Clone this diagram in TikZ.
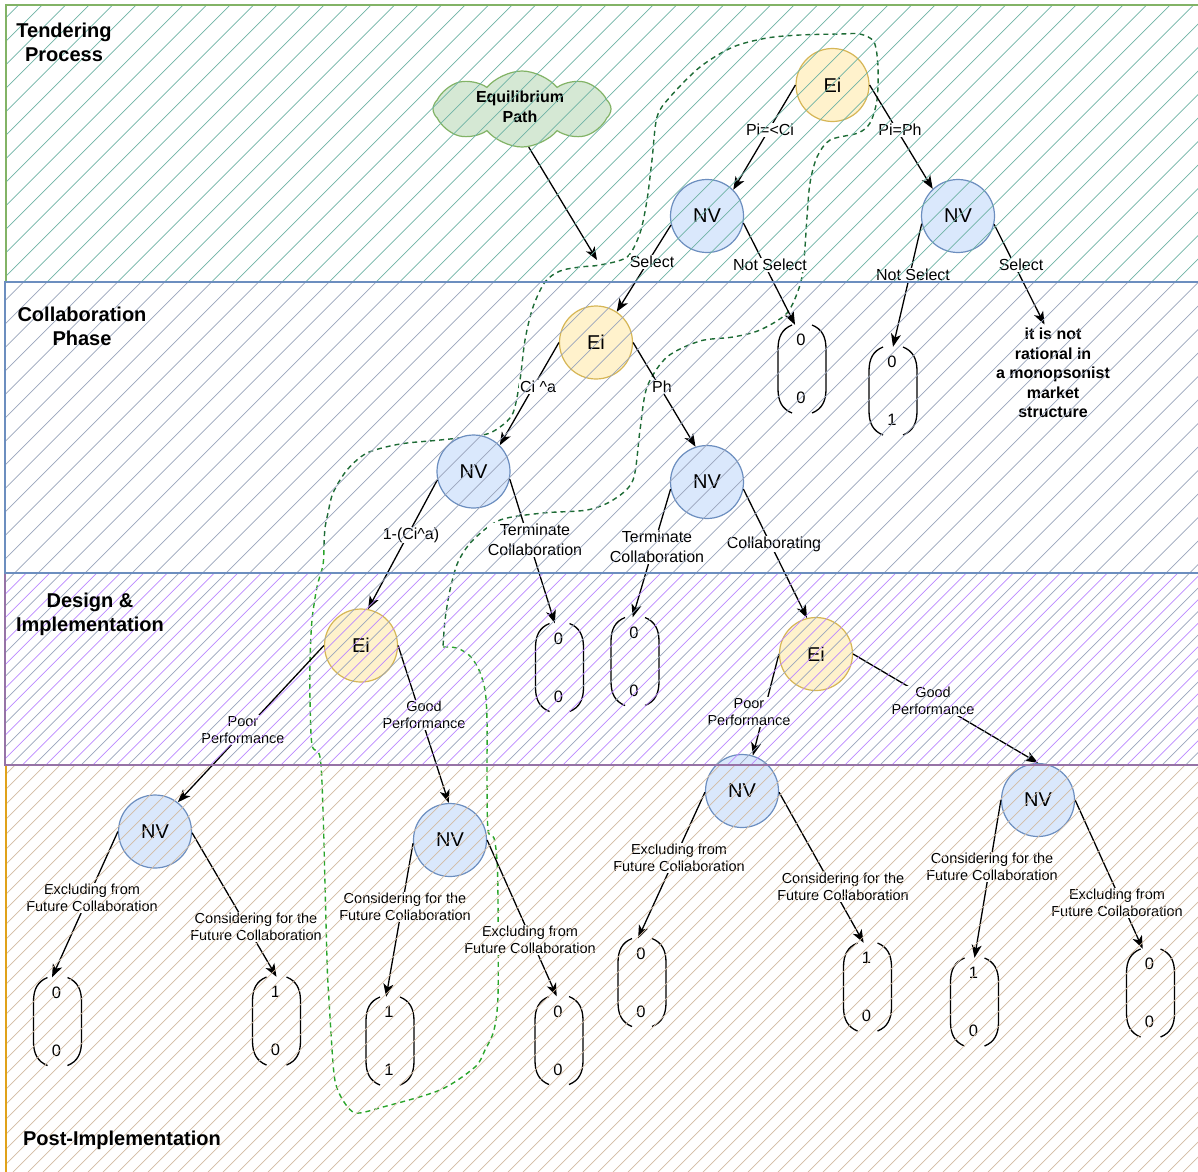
\documentclass[tikz,border=0pt]{standalone}
\usepackage{fontspec}
\setmainfont{Liberation Sans}
\usetikzlibrary{arrows.meta,shapes.symbols}
\definecolor{nvF}{HTML}{DAE8FC}
\definecolor{nvS}{HTML}{6C8EBF}
\definecolor{eiF}{HTML}{FFF2CC}
\definecolor{eiS}{HTML}{D6B656}
\definecolor{clF}{HTML}{D5E8D4}
\definecolor{clS}{HTML}{82B366}
\definecolor{tendS}{HTML}{82B366}
\definecolor{tendH}{HTML}{6FB3A5}
\definecolor{collS}{HTML}{6C8EBF}
\definecolor{collH}{HTML}{9AA5BC}
\definecolor{desS}{HTML}{9673A6}
\definecolor{desH}{HTML}{BB88FF}
\definecolor{postS}{HTML}{E0A21A}
\definecolor{postH}{HTML}{D2BBA3}
\definecolor{eqDark}{HTML}{1D6B35}
\definecolor{eqBright}{HTML}{2AA52A}
\tikzset{
  every node/.style={font=\fontsize{16}{20}\selectfont},
  nvnode/.style={circle, draw=nvS, fill=nvF, line width=1.2pt, minimum size=73pt, inner sep=0pt, font=\fontsize{20}{24}\selectfont},
  einode/.style={circle, draw=eiS, fill=eiF, line width=1.2pt, minimum size=73pt, inner sep=0pt, font=\fontsize{20}{24}\selectfont},
  arr/.style={line width=1.3pt, -{Stealth[length=13pt,width=10pt,inset=3.5pt]}},
  lbl/.style={fill=white, inner sep=1pt, align=center, font=\fontsize{16}{20}\selectfont},
  slbl/.style={fill=white, inner sep=1pt, align=center, font=\fontsize{14.5}{17.5}\selectfont},
  bandtitle/.style={font=\bfseries\fontsize{20}{24}\selectfont, align=center},
  vbox/.style={minimum width=48pt, minimum height=88pt, inner sep=0pt},
  vnum/.style={font=\fontsize{16.5}{19}\selectfont, inner sep=0pt},
  brk/.style={line width=1.3pt},
  eqline/.style={dash pattern=on 5pt off 4pt, line width=1.4pt},
  hatchline/.style={line width=0.7pt},
  bandline/.style={line width=1.3pt}
}
\newcommand\mypayoff[5]{%
  \node[vbox] (#1) at (#2,#3) {};
  \node[vnum] (#1t) at (#2-1,#3-29) {#4};
  \node[vnum] (#1b) at (#2-1,#3+29) {#5};
  \begin{scope}[shift={(#2,#3)}]
    \draw[brk] (-10,-44) .. controls (-20,-40) and (-24,-32) .. (-24,-20) -- (-24,20) .. controls (-24,32) and (-20,40) .. (-10,44);
    \draw[brk] (10,-44) .. controls (20,-40) and (24,-32) .. (24,-20) -- (24,20) .. controls (24,32) and (20,40) .. (10,44);
  \end{scope}}
\begin{document}
\begin{tikzpicture}[x=1pt,y=-1pt]
\useasboundingbox (0,0) rectangle (1198,1171);
\clip (0,0) rectangle (1198,1171);
\fill[white] (0,0) rectangle (1198,1171);

% equilibrium path loop
\draw[eqline, draw=eqDark] plot[smooth, tension=0.5] coordinates {
 (324,545) (325,528) (328,513) (333,493) (347,470) (367,453) (400,444) (440,440) (483,435) (500,427) (513,413) (520,380) (525,340) (533,307) (545,282) (560,271) (580,267) (600,265) (627,257) (640,233) (647,200) (652,160) (657,117) (670,97) (700,67) (733,47) (767,38) (800,35) (840,34) (860,34) (874,42) (878,67) (877,100) (870,123) (858,133) (830,140) (817,157) (810,183) (807,217) (804,260) (800,285) (787,313) (760,330) (733,337) (700,341) (667,357) (647,387) (640,430) (633,480) (613,500) (587,510) (543,513) (500,520) (473,540) (458,562) (450,590) (445,620) (443,647)};
\draw[eqline, draw=eqBright] plot[smooth, tension=0.5] coordinates {
 (443,647) (457,648) (470,656) (479,670) (485,690) (487,720) (487,780) (488,830) (494,838) (497,860) (498,900) (498,995) (494,1030) (485,1050) (475,1067) (440,1090) (383,1107) (356,1113) (344,1102) (336,1085) (333,1063) (329,1000) (327,960) (323,810) (320,757) (312,745) (310,700) (310,660) (312,620) (317,587) (323,565) (324,545)};

% cloud
\node[cloud, cloud puffs=8, cloud puff arc=100, aspect=2.3, draw=clS, fill=clF, line width=1.2pt, minimum width=178pt, minimum height=76pt, inner sep=0pt] (cloud) at (522,109) {};
\node[font=\bfseries\fontsize{16}{20}\selectfont, align=center] (cloudtxt) at (520,107) {Equilibrium\\Path};
\coordinate (eqTip) at (597,260);
\draw[arr] (cloud.-80) -- (eqTip);

% decision nodes
\node[einode] (Ei1) at (832.5,85) {Ei};
\node[nvnode] (NV1) at (707,216) {NV};
\node[nvnode] (NV2) at (958,216) {NV};
\node[einode] (Ei2) at (596,342.5) {Ei};
\node[nvnode] (NV3) at (473.5,471.5) {NV};
\node[nvnode] (NV4) at (707,482) {NV};
\node[einode] (Ei3) at (361,645.5) {Ei};
\node[einode] (Ei4) at (816,654) {Ei};
\node[nvnode] (NV5) at (155,831.5) {NV};
\node[nvnode] (NV6) at (450,840) {NV};
\node[nvnode] (NV7) at (742,791) {NV};
\node[nvnode] (NV8) at (1038,800) {NV};

% payoffs
\mypayoff{V1}{802}{369}{0}{0}
\mypayoff{V2}{893}{391}{0}{1}
\mypayoff{V3}{559.5}{667.5}{0}{0}
\mypayoff{V4}{635}{661.5}{0}{0}
\mypayoff{V5}{57.5}{1021.5}{0}{0}
\mypayoff{V6}{276.5}{1021}{1}{0}
\mypayoff{V7}{390}{1041}{1}{1}
\mypayoff{V8}{559}{1040.5}{0}{0}
\mypayoff{V9}{642}{982.5}{0}{0}
\mypayoff{V10}{867.5}{987}{1}{0}
\mypayoff{V11}{974.5}{1002}{1}{0}
\mypayoff{V12}{1150.5}{993}{0}{0}

\node[font=\bfseries\fontsize{16}{19.5}\selectfont, align=center] (irr) at (1053,373) {it is not\\rational in\\a monopsonist\\market\\structure};

% connectors
\draw[arr] (Ei1.180) -- (NV1.45);
\draw[arr] (Ei1.0) -- (NV2.133);
\draw[arr] (NV1.194) -- (Ei2.56);
\draw[arr] (NV1.-11) -- (V1.99);
\draw[arr] (NV2.192) -- (V2.90);
\draw[arr] (NV2.-13) -- (irr.100);
\draw[arr] (Ei2.180) -- (NV3.45);
\draw[arr] (Ei2.0) -- (NV4.108);
\draw[arr] (NV3.193) -- (Ei3.79);
\draw[arr] (NV3.-12) -- (V3.96);
\draw[arr] (NV4.191) -- (V4.93);
\draw[arr] (NV4.-11) -- (Ei4.104);
\draw[arr] (Ei3.180) -- (NV5.52);
\draw[arr] (Ei3.0) -- (NV6.92);
\draw[arr] (Ei4.180) -- (NV7.73);
\draw[arr] (Ei4.0) -- (NV8.90);
\draw[arr] (NV5.180) -- (V5.97);
\draw[arr] (NV5.-2) -- (V6.90);
\draw[arr] (NV6.185) -- (V7.95);
\draw[arr] (NV6.0) -- (V8.93);
\draw[arr] (NV7.182) -- (V9.95);
\draw[arr] (NV7.-2) -- (V10.95);
\draw[arr] (NV8.180) -- (V11.90);
\draw[arr] (NV8.0) -- (V12.100);

% connector labels
\node[lbl] (l1) at (770,130) {Pi=<Ci};
\node[lbl] (l2) at (900,130) {Pi=Ph};
\node[lbl] (l3) at (652,262) {Select};
\node[lbl] (l4) at (770,265) {Not Select};
\node[lbl] (l5) at (913,275) {Not Select};
\node[lbl] (l6) at (1021,265) {Select};
\node[lbl] (l7) at (538,387) {Ci \^{}a};
\node[lbl] (l8) at (662,387) {Ph};
\node[lbl] (l9) at (411,535) {1-(Ci\^{}a)};
\node[lbl] (l10) at (535,540) {Terminate\\Collaboration};
\node[lbl] (l11) at (657,547) {Terminate\\Collaboration};
\node[lbl] (l12) at (774,544) {Collaborating};
\node[slbl] (l13) at (243,730) {Poor\\Performance};
\node[slbl] (l14) at (424,715) {Good\\Performance};
\node[slbl] (l15) at (749,712) {Poor\\Performance};
\node[slbl] (l16) at (933,701) {Good\\Performance};
\node[slbl] (l17) at (92,898) {Excluding from\\Future Collaboration};
\node[slbl] (l18) at (256,927) {Considering for the\\Future Collaboration};
\node[slbl] (l19) at (405,907) {Considering for the\\Future Collaboration};
\node[slbl] (l20) at (530,940) {Excluding from\\Future Collaboration};
\node[slbl] (l21) at (679,858) {Excluding from\\Future Collaboration};
\node[slbl] (l22) at (843,887) {Considering for the\\Future Collaboration};
\node[slbl] (l23) at (992,867) {Considering for the\\Future Collaboration};
\node[slbl] (l24) at (1117,903) {Excluding from\\Future Collaboration};

% hatched bands (drawn on top)
\begin{scope}
  \clip (6,5) rectangle (1198,282);
  \foreach \c in {0,23.5,...,2400} \draw[hatchline, draw=tendH] (\c,0) -- ({\c-1200},1200);
\end{scope}
\begin{scope}
  \clip (5,282) rectangle (1198,573);
  \foreach \c in {0,23.5,...,2400} \draw[hatchline, draw=collH] (\c,0) -- ({\c-1200},1200);
\end{scope}
\begin{scope}
  \clip (5,573) rectangle (1198,765);
  \foreach \c in {0,23.5,...,2400} \draw[hatchline, draw=collH] (\c,0) -- ({\c-1200},1200);
  \foreach \c in {11.75,35.25,...,2400} \draw[hatchline, draw=desH] (\c,0) -- ({\c-1200},1200);
\end{scope}
\begin{scope}
  \clip (6,765) rectangle (1198,1171);
  \foreach \c in {0,15,...,2400} \draw[hatchline, draw=postH] (\c,0) -- ({\c-1200},1200);
\end{scope}
\draw[bandline, draw=tendS] (6,5) rectangle (1215,282);
\draw[bandline, draw=postS] (6,765) rectangle (1215,1190);
\draw[bandline, draw=desS] (5,573) rectangle (1215,765);
\draw[bandline, draw=collS] (5,282) rectangle (1215,573);

% band titles
\node[bandtitle] (tTend) at (64,42) {Tendering\\Process};
\node[bandtitle] (tColl) at (82,326) {Collaboration\\Phase};
\node[bandtitle] (tDes) at (90,614) {Design \&\\Implementation};
\node[bandtitle] (tPost) at (122,1140) {Post-Implementation};
\end{tikzpicture}
\end{document}
